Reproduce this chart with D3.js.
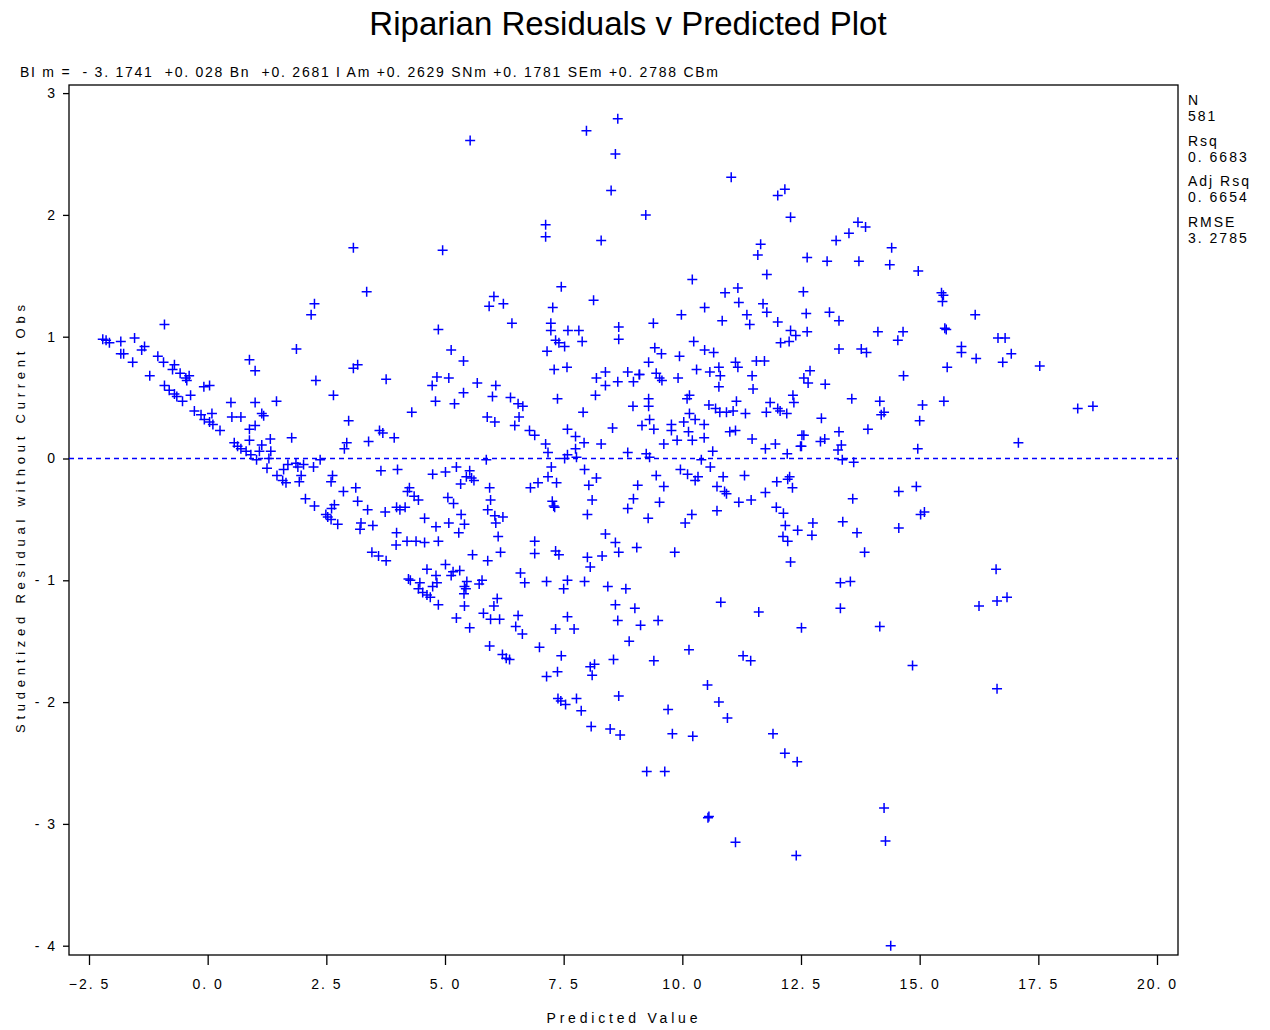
<!DOCTYPE html>
<html>
<head>
<meta charset="utf-8">
<script src="https://cdn.jsdelivr.net/npm/d3@7"></script>
<style>
  body { margin: 0; background: #fff; }
  svg { display: block; font-family: "Liberation Sans", Arial, sans-serif; }
</style>
</head>
<body>
<svg id="chart"></svg>
<script>
// predicted value (x) and studentized residual (y)
const predictedValue = [
  3.07,4.95,3.35,2.25,2.18,-0.91,4.86,-2.21,-2.14,-2.07,
  -1.83,-1.54,-1.33,-1.39,-1.83,-1.77,-1.58,-1.05,-0.93,-0.70,
  -0.74,-0.58,-0.39,-0.46,-1.22,0.88,1.00,1.87,3.07,3.16,
  4.83,2.28,3.76,5.53,7.98,8.64,8.59,8.50,11.03,12.01,
  12.16,12.28,9.23,7.12,7.12,8.29,11.65,11.59,11.78,10.21,
  7.45,6.03,5.93,6.23,7.27,8.13,10.90,11.17,11.19,11.70,
  11.78,12.55,10.47,9.98,11.36,11.42,10.84,12.01,12.61,6.41,
  7.23,7.23,7.59,7.82,8.66,8.66,9.39,7.33,7.40,7.52,
  7.89,7.15,5.13,5.39,9.42,9.56,10.24,9.94,10.47,10.66,
  9.29,12.28,12.39,12.07,12.25,12.63,11.12,11.17,11.56,11.73,
  10.77,10.30,10.58,10.80,11.47,12.56,7.30,7.57,8.38,8.85,
  9.09,9.45,9.52,8.19,9.91,5.08,8.97,13.70,13.86,13.51,
  13.24,14.41,12.63,13.05,13.72,14.37,14.97,15.46,15.50,15.48,
  16.17,13.10,13.30,14.12,14.65,14.54,15.53,15.56,15.88,15.88,
  16.19,16.65,16.80,16.93,16.75,17.53,15.58,13.30,13.77,13.88,
  12.69,14.66,-0.44,-0.91,-0.81,-0.70,-0.65,-0.53,-0.36,-0.08,
  0.04,4.73,4.80,2.65,0.49,1.00,1.45,-0.28,-0.14,-0.07,
  0.04,0.11,0.26,0.09,0.51,0.70,1.14,1.18,0.88,1.00,
  4.30,2.97,3.62,3.69,3.93,3.39,2.93,2.88,1.77,1.32,
  0.88,1.14,0.56,0.63,0.70,0.81,1.09,1.33,1.29,0.91,
  1.03,1.25,1.69,1.60,1.86,1.90,2.02,1.97,2.23,2.37,
  1.46,1.58,1.93,1.65,2.63,2.60,3.65,4.00,4.74,2.86,
  3.12,3.16,3.37,3.74,2.06,2.25,2.67,2.61,2.49,2.53,
  2.60,2.74,3.23,3.21,3.48,3.98,4.05,4.16,4.25,4.21,
  4.35,4.44,4.57,4.81,3.98,3.97,4.20,4.39,4.57,4.86,
  3.46,3.60,3.76,4.62,4.81,4.23,4.27,4.47,4.83,4.44,
  4.74,4.53,4.62,4.69,4.86,8.38,8.64,9.10,9.57,10.77,
  11.49,5.68,6.07,5.39,6.00,6.38,6.54,6.64,7.37,8.17,
  5.20,5.89,6.05,6.56,6.47,7.91,8.96,9.29,9.29,9.31,
  9.15,9.40,8.53,6.78,6.89,7.12,7.17,7.58,7.75,7.93,
  7.75,7.58,7.52,7.77,8.29,8.85,9.24,9.31,9.61,9.77,
  9.77,9.89,10.03,10.15,10.27,10.46,10.13,10.21,10.46,10.15,
  10.10,10.56,10.70,10.79,10.93,11.07,11.14,11.33,11.00,11.12,
  11.47,10.64,10.40,10.59,11.77,11.85,12.01,12.06,12.20,12.33,
  12.35,12.52,11.75,11.96,12.21,12.49,5.87,5.01,5.24,5.52,
  5.45,5.56,5.61,5.33,5.94,7.24,7.17,6.96,7.35,6.80,
  7.94,8.19,8.03,9.45,9.06,9.61,9.96,10.11,10.33,10.27,
  10.86,10.73,10.89,10.93,11.31,11.75,11.99,12.26,12.22,12.32,
  5.06,5.18,5.96,5.90,6.05,6.22,6.07,5.34,5.41,5.08,
  5.29,7.26,7.29,7.31,8.10,8.00,8.97,8.85,9.52,9.28,
  11.19,11.45,10.73,10.20,10.06,11.98,12.13,12.17,12.43,12.12,
  12.22,12.28,6.12,5.58,6.17,5.90,6.89,6.89,7.33,7.40,
  8.00,8.06,8.31,8.38,8.59,8.66,9.04,9.84,5.01,5.17,
  5.31,5.13,5.46,5.41,5.44,5.40,5.72,5.78,6.59,6.68,
  7.14,7.58,7.50,7.94,8.43,8.81,6.10,6.03,5.41,5.81,
  5.96,6.15,5.24,5.52,6.54,6.49,6.63,7.33,7.72,7.58,
  8.59,9.00,8.64,9.12,9.49,8.88,10.81,11.61,12.51,5.94,
  6.99,6.21,6.29,6.36,7.45,8.15,8.55,9.40,10.14,11.28,
  11.44,12.65,13.01,13.57,14.16,15.06,15.51,18.33,18.65,12.93,
  14.19,14.25,15.00,12.56,13.30,13.91,12.51,12.91,13.00,13.35,
  13.28,14.96,17.08,13.37,13.61,14.56,14.93,13.59,15.02,15.10,
  12.75,12.73,13.38,13.68,14.56,13.84,16.61,13.33,13.54,13.33,
  16.25,16.63,16.84,14.16,7.14,7.37,8.06,8.10,10.53,10.77,
  10.95,7.38,7.44,7.54,7.77,7.87,8.66,9.70,8.08,8.48,
  8.69,9.79,10.22,11.91,12.16,12.42,9.25,9.63,10.54,11.12,
  12.40,14.85,16.63,14.25,14.28,14.39,10.56
];
const studentResid = [
  1.73,1.71,1.37,1.27,1.18,1.10,1.06,0.98,0.97,0.95,
  0.96,0.99,0.92,0.89,0.86,0.86,0.79,0.84,0.79,0.77,
  0.73,0.70,0.68,0.66,0.68,0.81,0.72,0.90,0.74,0.77,
  0.67,0.64,0.65,2.61,2.69,2.79,2.50,2.20,2.31,2.16,
  2.21,1.98,2.00,1.92,1.82,1.79,1.76,1.67,1.51,1.47,
  1.41,1.33,1.25,1.27,1.24,1.30,1.36,1.40,1.28,1.27,
  1.20,1.37,1.24,1.18,1.18,1.10,1.13,1.12,1.19,1.11,
  1.11,1.05,1.05,1.05,1.08,0.98,1.11,0.97,0.95,0.92,
  0.96,0.88,0.89,0.80,0.91,0.86,0.96,0.84,0.89,0.87,
  0.79,1.05,1.01,0.95,0.96,1.04,0.79,0.75,0.80,0.80,
  0.75,0.73,0.71,0.68,0.68,0.66,0.73,0.75,0.71,0.71,
  0.69,0.70,0.66,0.66,0.66,0.66,0.63,1.94,1.90,1.85,
  1.79,1.73,1.65,1.62,1.62,1.59,1.54,1.36,1.34,1.29,
  1.18,1.20,1.13,1.04,1.04,0.97,1.07,1.06,0.92,0.87,
  0.82,0.99,0.99,0.86,0.79,0.76,0.75,0.90,0.90,0.87,
  0.72,0.68,0.64,0.60,0.56,0.53,0.51,0.47,0.52,0.59,
  0.60,0.60,0.47,0.52,0.46,0.46,0.47,0.39,0.36,0.32,
  0.30,0.28,0.23,0.37,0.34,0.34,0.37,0.35,0.24,0.27,
  0.38,0.31,0.23,0.21,0.17,0.14,0.13,0.08,0.17,0.16,
  0.15,0.11,0.13,0.10,0.08,0.06,0.06,0.06,0.00,0.03,
  -0.01,-0.08,-0.05,-0.09,-0.04,-0.07,-0.05,-0.14,-0.07,-0.01,
  -0.14,-0.18,-0.19,-0.20,-0.14,-0.19,-0.10,-0.09,-0.13,-0.27,
  -0.24,-0.35,-0.42,-0.44,-0.33,-0.39,-0.38,-0.41,-0.46,-0.48,
  -0.50,-0.54,-0.53,-0.58,-0.55,-0.40,-0.42,-0.40,-0.24,-0.27,
  -0.31,-0.34,-0.49,-0.56,-0.61,-0.71,-0.68,-0.68,-0.69,-0.68,
  -0.77,-0.80,-0.84,-0.91,-0.96,-0.99,-1.00,-1.02,-1.02,-1.07,
  -1.05,-1.10,-1.12,-1.14,-1.20,0.60,0.63,0.69,0.64,0.59,
  0.57,0.62,0.60,0.54,0.51,0.50,0.45,0.43,0.49,0.52,
  0.45,0.34,0.30,0.34,0.27,0.38,0.43,0.49,0.43,0.32,
  0.27,0.24,0.25,0.23,0.19,0.12,0.05,0.24,0.18,0.13,
  0.08,0.03,0.00,0.01,0.12,0.05,0.04,0.01,0.12,0.28,
  0.23,0.15,0.30,0.37,0.32,0.28,0.22,0.15,0.17,0.52,
  0.49,0.44,0.41,0.38,0.38,0.39,0.47,0.37,0.22,0.23,
  0.16,0.06,-0.01,-0.07,0.38,0.46,0.41,0.39,0.37,0.52,
  0.46,0.19,0.08,0.12,0.04,0.10,-0.01,-0.11,-0.07,-0.10,
  -0.15,-0.16,-0.18,-0.21,-0.24,-0.07,-0.15,-0.20,-0.20,-0.24,
  -0.09,-0.16,-0.22,-0.14,-0.22,-0.23,-0.09,-0.13,-0.15,-0.18,
  -0.15,-0.23,-0.27,-0.29,-0.14,-0.28,-0.19,-0.15,-0.17,-0.24,
  -0.32,-0.37,-0.34,-0.42,-0.47,-0.48,-0.53,-0.46,-0.54,-0.53,
  -0.61,-0.35,-0.39,-0.40,-0.34,-0.46,-0.33,-0.41,-0.36,-0.49,
  -0.36,-0.34,-0.43,-0.46,-0.53,-0.40,-0.45,-0.55,-0.59,-0.64,
  -0.68,-0.85,-0.64,-0.79,-0.77,-0.84,-0.68,-0.78,-0.76,-0.79,
  -0.81,-0.89,-0.80,-0.62,-0.69,-0.77,-0.73,-0.77,-0.87,-0.93,
  -0.92,-0.96,-1.01,-1.05,-1.07,-1.11,-1.03,-1.00,-0.94,-1.02,
  -1.01,-1.00,-1.07,-1.01,-1.05,-1.07,-1.15,-1.21,-1.21,-1.27,
  -1.32,-1.32,-1.31,-1.39,-1.29,-1.38,-1.44,-1.40,-1.40,-1.30,
  -1.20,-1.23,-1.33,-1.37,-1.33,-1.50,-1.18,-1.26,-1.39,-1.54,
  -1.55,-1.61,-1.64,-1.65,-1.62,-1.69,-1.65,-1.66,-1.57,-1.62,
  -1.66,0.62,0.61,0.49,0.47,0.44,0.47,0.41,0.43,0.33,
  0.36,0.38,0.31,0.19,0.22,0.24,0.10,0.14,0.16,0.11,
  0.07,0.08,0.13,-0.01,-0.03,-0.27,-0.23,-0.33,-0.46,-0.44,
  -0.53,-0.63,-0.52,-0.61,-0.57,-0.77,-0.91,-1.02,-1.01,-1.23,
  -1.21,-1.17,-1.14,-1.38,-1.79,-1.75,-1.71,-1.78,-1.86,-2.00,
  -2.13,-1.97,-1.99,-2.02,-1.97,-2.07,-1.95,-2.06,-2.20,-2.22,
  -2.27,-2.26,-2.28,-2.26,-2.42,-2.49,-2.57,-2.57,-2.95,-3.15,
  -3.26,-1.70,-1.89,-2.87,-3.14,-4.00,-2.94
];

const xTicks = [-2.5, 0, 2.5, 5, 7.5, 10, 12.5, 15, 17.5, 20];
const yTicks = [-4, -3, -2, -1, 0, 1, 2, 3];
const statLabels = ["N", "Rsq", "Adj Rsq", "RMSE"];
const statValues = ["581", "0. 6683", "0. 6654", "3. 2785"];
const titleText = "Riparian Residuals v Predicted Plot";
const equationText = "BI m =  - 3. 1741  +0. 028 Bn  +0. 2681 I Am +0. 2629 SNm +0. 1781 SEm +0. 2788 CBm";
const xLabel = "Predicted Value";
const yLabel = "Studentized Residual without Current Obs";

const width = 1270;
const height = 1030;
const frame = { left: 69, top: 85, right: 1178, bottom: 955 };
const blue = "#0000ff";

const svg = d3.select("#chart").attr("width", width).attr("height", height);

const x = d3.scaleLinear().domain([-2.5, 20]).range([89, 1157]);
const y = d3.scaleLinear().domain([-4, 3]).range([945.7, 93.1]);

// title + equation
svg.append("text")
  .attr("x", 628).attr("y", 35)
  .attr("text-anchor", "middle")
  .attr("font-size", "33px")
  .attr("fill", "#000")
  .text(titleText);

svg.append("text")
  .attr("x", 20).attr("y", 77)
  .attr("font-size", "14px")
  .attr("textLength", 698)
  .attr("lengthAdjust", "spacing")
  .style("white-space", "pre")
  .text(equationText);

// axes
const fmtX = d => d3.format(".1f")(d).replace(".", ". ");
const fmtY = d => d < 0 ? "- " + Math.abs(d) : String(d);

const xAxis = svg.append("g")
  .attr("transform", `translate(0,${frame.bottom})`)
  .call(d3.axisBottom(x).tickValues(xTicks).tickSize(10).tickPadding(14).tickFormat(fmtX));
xAxis.select(".domain").remove();

const yAxis = svg.append("g")
  .attr("transform", `translate(${frame.left},0)`)
  .call(d3.axisLeft(y).tickValues(yTicks).tickSize(6).tickPadding(6).tickFormat(fmtY));
yAxis.select(".domain").remove();

svg.selectAll(".tick line").attr("stroke", "#000").attr("stroke-width", 1.3);
svg.selectAll(".tick text")
  .attr("fill", "#000")
  .attr("font-size", "14px")
  .attr("font-family", "'Liberation Sans', Arial, sans-serif")
  .style("letter-spacing", "2px")
  .style("white-space", "pre");

// frame
svg.append("rect")
  .attr("x", frame.left).attr("y", frame.top)
  .attr("width", frame.right - frame.left)
  .attr("height", frame.bottom - frame.top)
  .attr("fill", "none")
  .attr("stroke", "#000")
  .attr("stroke-width", 1.3);

// reference line at 0
svg.append("line")
  .attr("x1", frame.left).attr("x2", frame.right)
  .attr("y1", y(0)).attr("y2", y(0))
  .attr("stroke", blue)
  .attr("stroke-width", 1.3)
  .attr("stroke-dasharray", "5,4");

// plus markers
const points = d3.zip(predictedValue, studentResid);
svg.append("g")
  .selectAll("path")
  .data(points)
  .join("path")
  .attr("transform", d => `translate(${x(d[0])},${y(d[1])})`)
  .attr("d", "M-5,0H5M0,-5V5")
  .attr("stroke", blue)
  .attr("stroke-width", 1.5)
  .attr("fill", "none");

// axis titles
svg.append("text")
  .attr("x", 622).attr("y", 1023)
  .attr("text-anchor", "middle")
  .attr("font-size", "14px")
  .attr("textLength", 151)
  .attr("lengthAdjust", "spacing")
  .text(xLabel);

svg.append("text")
  .attr("transform", "translate(25,519) rotate(-90)")
  .attr("text-anchor", "middle")
  .attr("font-size", "13px")
  .attr("textLength", 428)
  .attr("lengthAdjust", "spacing")
  .text(yLabel);

// fit statistics on the right
const stats = svg.append("g").attr("font-size", "14px").style("letter-spacing", "2px");
statLabels.forEach((lab, i) => {
  const base = 105 + i * 40.5;
  stats.append("text").attr("x", 1188).attr("y", base).style("white-space", "pre").text(lab);
  stats.append("text").attr("x", 1188).attr("y", base + 16).style("white-space", "pre").text(statValues[i]);
});
</script>
</body>
</html>
